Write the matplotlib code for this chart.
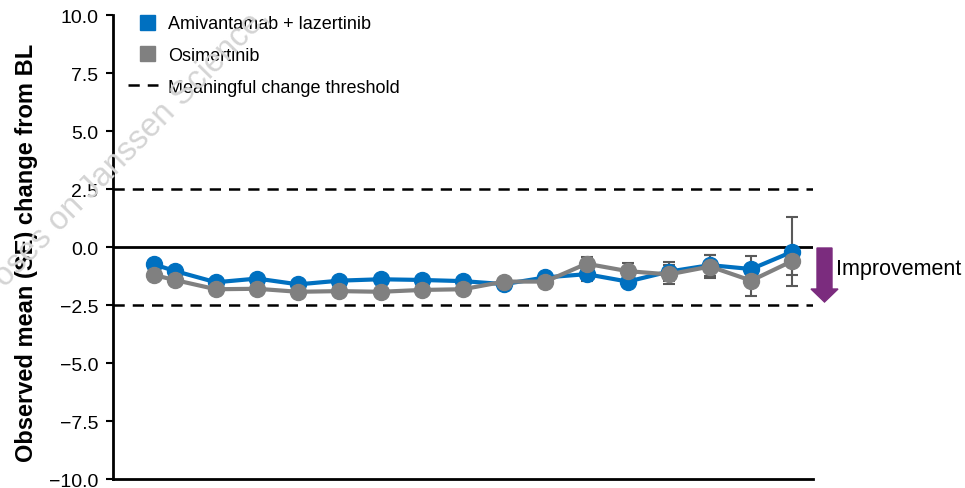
import numpy as np
import matplotlib
matplotlib.use('Agg')
import matplotlib.pyplot as plt
from matplotlib.patches import Patch, Rectangle, FancyArrow
from matplotlib.lines import Line2D
from matplotlib.legend_handler import HandlerPatch

plt.rcParams['font.family'] = ['Liberation Sans', 'DejaVu Sans']

# visit week of each assessment
weeks = [2, 4, 8, 12, 16, 20, 24, 28, 32, 36, 40, 44, 48, 52, 56, 60, 64]

ami_mean = [-0.75, -1.03, -1.52, -1.36, -1.61, -1.45, -1.39, -1.42, -1.47,
            -1.60, -1.31, -1.17, -1.49, -1.06, -0.78, -0.95, -0.20]
ami_se = [0.08, 0.08, 0.08, 0.08, 0.08, 0.08, 0.08, 0.08, 0.08,
          0.1, 0.12, 0.3, 0.22, 0.4, 0.45, 0.58, 1.48]

osi_mean = [-1.21, -1.42, -1.82, -1.80, -1.93, -1.90, -1.93, -1.85, -1.82,
            -1.49, -1.49, -0.72, -1.04, -1.18, -0.84, -1.45, -0.60]
osi_se = [0.08, 0.08, 0.08, 0.08, 0.08, 0.08, 0.08, 0.08, 0.08,
          0.1, 0.22, 0.28, 0.36, 0.4, 0.5, 0.68, 0.6]

threshold = 2.5
yticks = [-10.0, -7.5, -5.0, -2.5, 0.0, 2.5, 5.0, 7.5, 10.0]
labels = ['Amivantamab + lazertinib', 'Osimertinib', 'Meaningful change threshold']

blue = '#0070C0'
grey = '#808080'
err_col = '#595959'
dash = (4.5, 3.2)

fig = plt.figure(figsize=(9.65, 4.89), dpi=100)
ax = fig.add_axes([0.117, 0.0184, 0.7255, 0.9488])

fig.text(5 / 965, 1 - 288 / 489, 'oses on Janssen Science,', rotation=45.5,
         rotation_mode='anchor', fontsize=23.5, color='#d4d4d4',
         ha='left', va='baseline', zorder=0)

ax.axhline(0, color='black', lw=2, zorder=1)
for t in (threshold, -threshold):
    ax.axhline(t, color='black', lw=1.8, dashes=dash, zorder=1)

ax.errorbar(weeks, ami_mean, yerr=ami_se, fmt='none', ecolor=err_col,
            elinewidth=1.5, capsize=4, capthick=1.5, zorder=2)
ax.errorbar(weeks, osi_mean, yerr=osi_se, fmt='none', ecolor=err_col,
            elinewidth=1.5, capsize=4, capthick=1.5, zorder=2)
ax.plot(weeks, ami_mean, color=blue, lw=3, marker='o', ms=11.5, zorder=3)
ax.plot(weeks, osi_mean, color=grey, lw=3, marker='o', ms=11.5, zorder=4)

ax.set_xlim(-2, 66)
ax.set_ylim(-10, 10)
ax.set_yticks(yticks)
ax.set_yticklabels([f'{v:.1f}'.replace('-', '\u2212') for v in yticks])
ax.set_xticks([])
ax.tick_params(axis='y', length=5, width=1.5, labelsize=14, pad=5.5)
for s in ('top', 'right'):
    ax.spines[s].set_visible(False)
for s in ('left', 'bottom'):
    ax.spines[s].set_linewidth(2)
ax.set_ylabel('Observed mean (SE) change from BL', fontsize=17,
              fontweight='bold')
ax.yaxis.set_label_coords(-0.107, 0.49)


def square(legend, orig_handle, xdescent, ydescent, width, height, fontsize):
    side = 0.83 * fontsize
    return Rectangle((-xdescent + (width - side) / 2 + 3.5,
                      -ydescent + (height - side) / 2), side, side)


handles = [Patch(color=blue), Patch(color=grey),
           Line2D([], [], color='black', lw=1.8, dashes=dash)]
ax.legend(handles, labels, loc='upper left',
          bbox_to_anchor=(128 / 965, 1 - 16 / 489), bbox_transform=fig.transFigure,
          frameon=False, fontsize=13, handlelength=1.65, handleheight=0.83,
          handletextpad=0.55, labelspacing=0.8, borderpad=0, borderaxespad=0,
          handler_map={Patch: HandlerPatch(patch_func=square)})

# arrow showing direction of improvement
fig.patches.append(FancyArrow(824.5 / 965, 1 - 249 / 489, 0, -54 / 489,
                              width=15 / 965, head_width=27 / 965,
                              head_length=13 / 489, length_includes_head=True,
                              color='#7B2C7E', transform=fig.transFigure,
                              figure=fig))
fig.text(836 / 965, 1 - 270 / 489, 'Improvement', fontsize=15.5,
         va='center', ha='left')

fig.savefig('out.png', dpi=100)
